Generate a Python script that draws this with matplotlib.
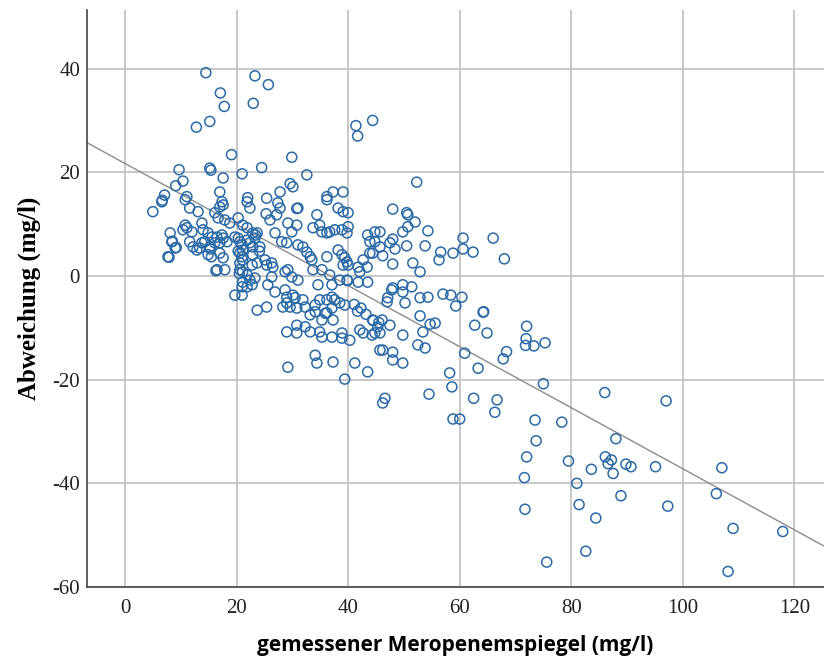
import matplotlib
matplotlib.use("Agg")
import matplotlib.pyplot as plt
import numpy as np

plt.rcParams["axes.unicode_minus"] = False

# gemessener Meropenemspiegel (mg/l) and Abweichung (mg/l)
# top outliers and upper band (y > 15)
x_top = [14.5, 23.3, 25.7, 17.1, 17.8, 23.0, 12.8, 15.2, 41.4, 44.4, 41.7, 19.1, 29.9,
         15.2, 15.4, 9.7, 24.5, 21.0, 32.6, 17.6, 10.4, 9.1, 29.6, 30.1, 7.1, 17.0, 27.8,
         36.2, 37.3, 39.1, 11.1, 6.7, 22.0, 25.4]
y_top = [39.2, 38.6, 36.9, 35.3, 32.7, 33.3, 28.7, 29.8, 29.0, 30.0, 27.0, 23.4, 22.9,
         20.8, 20.4, 20.5, 20.9, 19.7, 19.5, 18.9, 18.3, 17.4, 17.8, 17.2, 15.6, 16.2, 16.2,
         15.3, 16.2, 16.2, 15.3, 14.6, 15.1, 15.0]

# left cluster (x < 24)
x_left = [5.0, 6.6, 10.8, 11.6, 13.1, 17.4, 17.6, 17.0, 16.1, 16.7, 17.9, 18.8, 21.9,
          22.4, 20.3, 21.1, 21.9, 22.9, 10.8, 11.1, 10.4, 12.0, 13.8, 14.0, 14.9, 15.6,
          16.5, 17.4, 17.6, 18.3, 17.0, 16.1, 15.2, 14.3, 13.8, 13.4, 12.9, 12.2, 11.6,
          8.1, 8.4, 9.0, 7.7, 14.9, 17.0, 17.6, 16.5, 17.9, 19.7, 21.0, 23.7,
          19.7, 20.3, 20.6, 21.0, 21.1, 20.6, 21.0, 21.1, 20.6, 20.6, 21.1, 21.9, 22.4,
          21.1, 21.0, 21.9, 22.8, 23.3, 22.9, 22.4, 21.9, 23.3, 23.7, 22.9, 23.7, 22.8,
          8.5, 9.2, 7.9, 15.3, 15.5, 16.3, 20.3, 20.5, 23.4, 24.1]
y_left = [12.4, 14.3, 14.7, 13.1, 12.4, 14.3, 13.7, 13.3, 12.2, 11.2, 10.8, 10.2, 14.3,
          13.1, 11.2, 9.8, 9.3, 8.3, 9.8, 9.3, 8.9, 8.5, 10.2, 8.9, 8.3, 7.5,
          7.5, 7.9, 7.3, 6.6, 6.4, 6.4, 5.6, 6.6, 6.4, 5.4, 5.0, 5.6, 6.6,
          8.3, 6.6, 5.4, 3.7, 4.1, 4.4, 3.5, 1.2, 1.2, -3.7, -3.7, -6.6,
          7.5, 7.3, 6.6, 6.0, 5.0, 4.4, 3.7, 3.1, 2.5, 1.2, 0.8, 0.2, -0.8,
          -1.2, -2.1, -2.1, -1.7, -0.4, 5.6, 6.4, 6.9, 7.3, 8.3, 4.1, 2.5, 2.1,
          6.7, 5.5, 3.6, 5.2, 3.7, 1.0, 4.8, 0.5, 7.9, 4.8]

# middle cluster (24 < x < 46, -8 < y < 15)
x_mid = [27.4, 27.8, 26.0, 27.2, 31.0, 34.4, 36.2, 38.2, 39.1, 40.0, 29.2, 29.9, 30.8,
         33.7, 34.9, 35.3, 36.2, 36.7, 37.6, 38.9, 40.0, 39.8, 26.9, 28.1, 29.0, 31.0,
         31.9, 32.6, 33.2, 33.5, 36.2, 38.2, 38.9, 39.4, 39.8, 39.1, 40.0, 42.7, 41.8,
         42.1, 43.4, 43.5, 44.8, 43.9, 44.8, 43.9, 44.4, 25.4, 26.5, 26.3, 28.7, 29.2,
         29.9, 31.0, 33.7, 34.6, 35.3, 36.7, 37.1, 38.5, 39.8, 41.8, 43.5, 24.2, 25.1,
         26.3, 28.7, 29.0, 30.1, 29.0, 28.3, 29.6, 30.8, 31.9, 32.3, 33.2, 34.1, 34.9,
         36.2, 37.1, 37.6, 38.5, 39.4, 37.1, 36.2, 34.1, 25.4, 26.9, 25.6, 30.8, 25.3,
         39.9, 41.1, 42.3, 45.5, 41.7, 43.2, 44.5, 35.9, 30.5]
y_mid = [14.1, 13.1, 10.8, 11.8, 13.1, 11.8, 14.7, 13.1, 12.4, 12.2, 10.2, 8.5, 9.8,
         9.3, 9.8, 8.5, 8.3, 8.5, 8.9, 8.9, 9.5, 8.3, 8.3, 6.6, 6.4, 6.0,
         5.6, 4.6, 3.7, 3.1, 3.7, 5.0, 4.1, 3.5, 2.7, 2.1, 2.1, 3.1, 1.7,
         0.8, 1.7, 7.9, 8.5, 6.6, 6.6, 4.4, 4.4, 2.1, 1.7, -0.2, 0.8, 1.2,
         -0.2, -0.8, 1.2, -1.7, 1.2, 0.2, -1.7, -0.8, -0.8, -1.2, -1.2, 5.6, 3.1,
         2.5, -2.7, -4.1, -3.7, -5.2, -6.0, -6.0, -6.2, -4.6, -6.0, -7.5, -5.6, -4.6,
         -4.6, -4.1, -4.6, -5.2, -5.6, -6.2, -7.1, -6.9, -6.0, -3.1, -1.7, 13.0, 12.0,
         -0.9, -5.5, -6.2, -9.0, -6.8, -7.4, -8.6, -7.2, -4.2]

# right of the cluster (46 < x < 67)
x_right = [52.3, 48.0, 50.5, 50.7, 52.0, 54.3, 50.7, 49.8, 48.0, 47.5, 48.4, 50.5,
           53.8, 45.7, 45.7, 46.2, 48.0, 51.6, 52.9, 56.6, 56.3, 58.8, 60.6, 60.6,
           62.4, 66.0, 47.8, 48.0, 49.8, 49.8, 51.4, 47.1, 47.0, 50.2, 52.9, 54.3,
           57.0, 58.4, 60.4, 59.3, 64.3, 52.9]
y_right = [18.1, 12.9, 12.2, 11.8, 10.4, 8.7, 9.5, 8.5, 7.1, 6.4, 5.2, 5.8,
           5.8, 8.5, 5.6, 3.9, 2.3, 2.5, 0.8, 4.6, 3.1, 4.4, 7.3, 5.2,
           4.6, 7.3, -2.7, -2.3, -1.7, -3.1, -2.1, -4.2, -5.0, -5.2, -4.2, -4.1,
           -3.5, -3.7, -4.1, -5.8, -6.9, -7.7]

# lower part of the cluster (y < -8)
x_low = [29.0, 30.8, 30.8, 32.3, 33.2, 34.9, 35.3, 37.1, 38.9, 38.9, 40.3, 37.3, 35.3,
         34.1, 34.4, 29.2, 37.3, 41.2, 43.5, 39.4, 42.1, 42.7, 44.3, 44.8, 45.3, 44.4,
         45.7, 47.5, 46.1, 45.7, 49.8, 53.4, 54.7, 55.6, 52.5, 53.8, 46.2, 48.0, 48.0,
         49.8, 62.7, 64.9, 60.9, 63.3, 58.2, 58.6, 54.5, 46.6, 46.2, 62.5, 66.7, 66.3,
         58.8, 60.0, 64.2]
y_low = [-10.8, -11.0, -9.5, -9.8, -10.8, -10.8, -11.8, -11.8, -11.0, -12.0, -12.4, -8.5, -8.5,
         -15.3, -16.8, -17.6, -16.6, -16.8, -18.5, -19.9, -10.4, -11.0, -11.4, -11.0, -9.8, -8.5,
         -14.3, -9.5, -8.5, -11.0, -11.4, -10.8, -9.3, -9.1, -13.3, -13.9, -14.3, -14.7, -16.2,
         -16.8, -9.5, -11.0, -14.9, -17.8, -18.7, -21.4, -22.8, -23.6, -24.5, -23.6, -23.9, -26.3,
         -27.6, -27.6, -7.0]

# high concentrations (x > 67)
x_high = [68.0, 67.8, 68.4, 72.0, 71.9, 71.8, 73.3, 75.3, 75.0, 73.5, 78.3, 73.7, 72.0,
          71.6, 71.7, 75.6, 79.5, 81.0, 81.4, 83.6, 84.4, 82.6, 86.0, 88.0, 86.1, 86.6,
          87.2, 87.5, 88.9, 89.8, 90.7, 95.1, 97.0, 97.3, 107.0, 106.0, 109.0, 108.1, 117.9]
y_high = [3.3, -16.0, -14.6, -9.7, -12.1, -13.4, -13.5, -12.9, -20.8, -27.8, -28.2, -31.8, -34.9,
          -38.9, -45.0, -55.2, -35.7, -40.0, -44.1, -37.3, -46.7, -53.1, -22.5, -31.4, -34.9, -36.2,
          -35.5, -38.1, -42.4, -36.3, -36.8, -36.8, -24.1, -44.4, -37.0, -42.0, -48.7, -57.0, -49.3]

# fit line as drawn in the chart
intercept = 21.7
slope = -0.589

x = np.array(x_top + x_left + x_mid + x_right + x_low + x_high)
y = np.array(y_top + y_left + y_mid + y_right + y_low + y_high)

fig = plt.figure(figsize=(8.24, 6.62), dpi=100)
ax = fig.add_axes([0.1056, 0.1133, 0.8944, 0.8716])

ax.scatter(x, y, s=52, facecolors="none", edgecolors="#2a6aa6", linewidths=1.1, zorder=3)
ax.axline((0, intercept), slope=slope, color="#8c8c8c", lw=1.0, zorder=2)

ax.set_xlim(-6.8, 125.3)
ax.set_ylim(-60, 51.3)
ax.set_xticks(range(0, 121, 20))
ax.set_yticks(range(-60, 41, 20))
ax.grid(True, color="#c4c4c4", lw=1.3)
ax.set_axisbelow(True)
ax.tick_params(axis="x", length=0, pad=9, labelsize=15)
ax.tick_params(axis="y", length=0, pad=5, labelsize=15)
for lab in ax.get_xticklabels() + ax.get_yticklabels():
    lab.set_family("Liberation Serif")
    lab.set_color("#222222")

for side in ["top", "right"]:
    ax.spines[side].set_visible(False)
for side in ["left", "bottom"]:
    ax.spines[side].set_color("#444444")
    ax.spines[side].set_linewidth(1.2)

ax.set_ylabel("Abweichung (mg/l)", family="Liberation Serif", fontweight="bold",
              fontsize=18, labelpad=8)
ax.set_xlabel("gemessener Meropenemspiegel (mg/l)", family="Open Sans",
              fontweight="bold", fontsize=15, labelpad=12)

fig.savefig("out.png", dpi=100)
